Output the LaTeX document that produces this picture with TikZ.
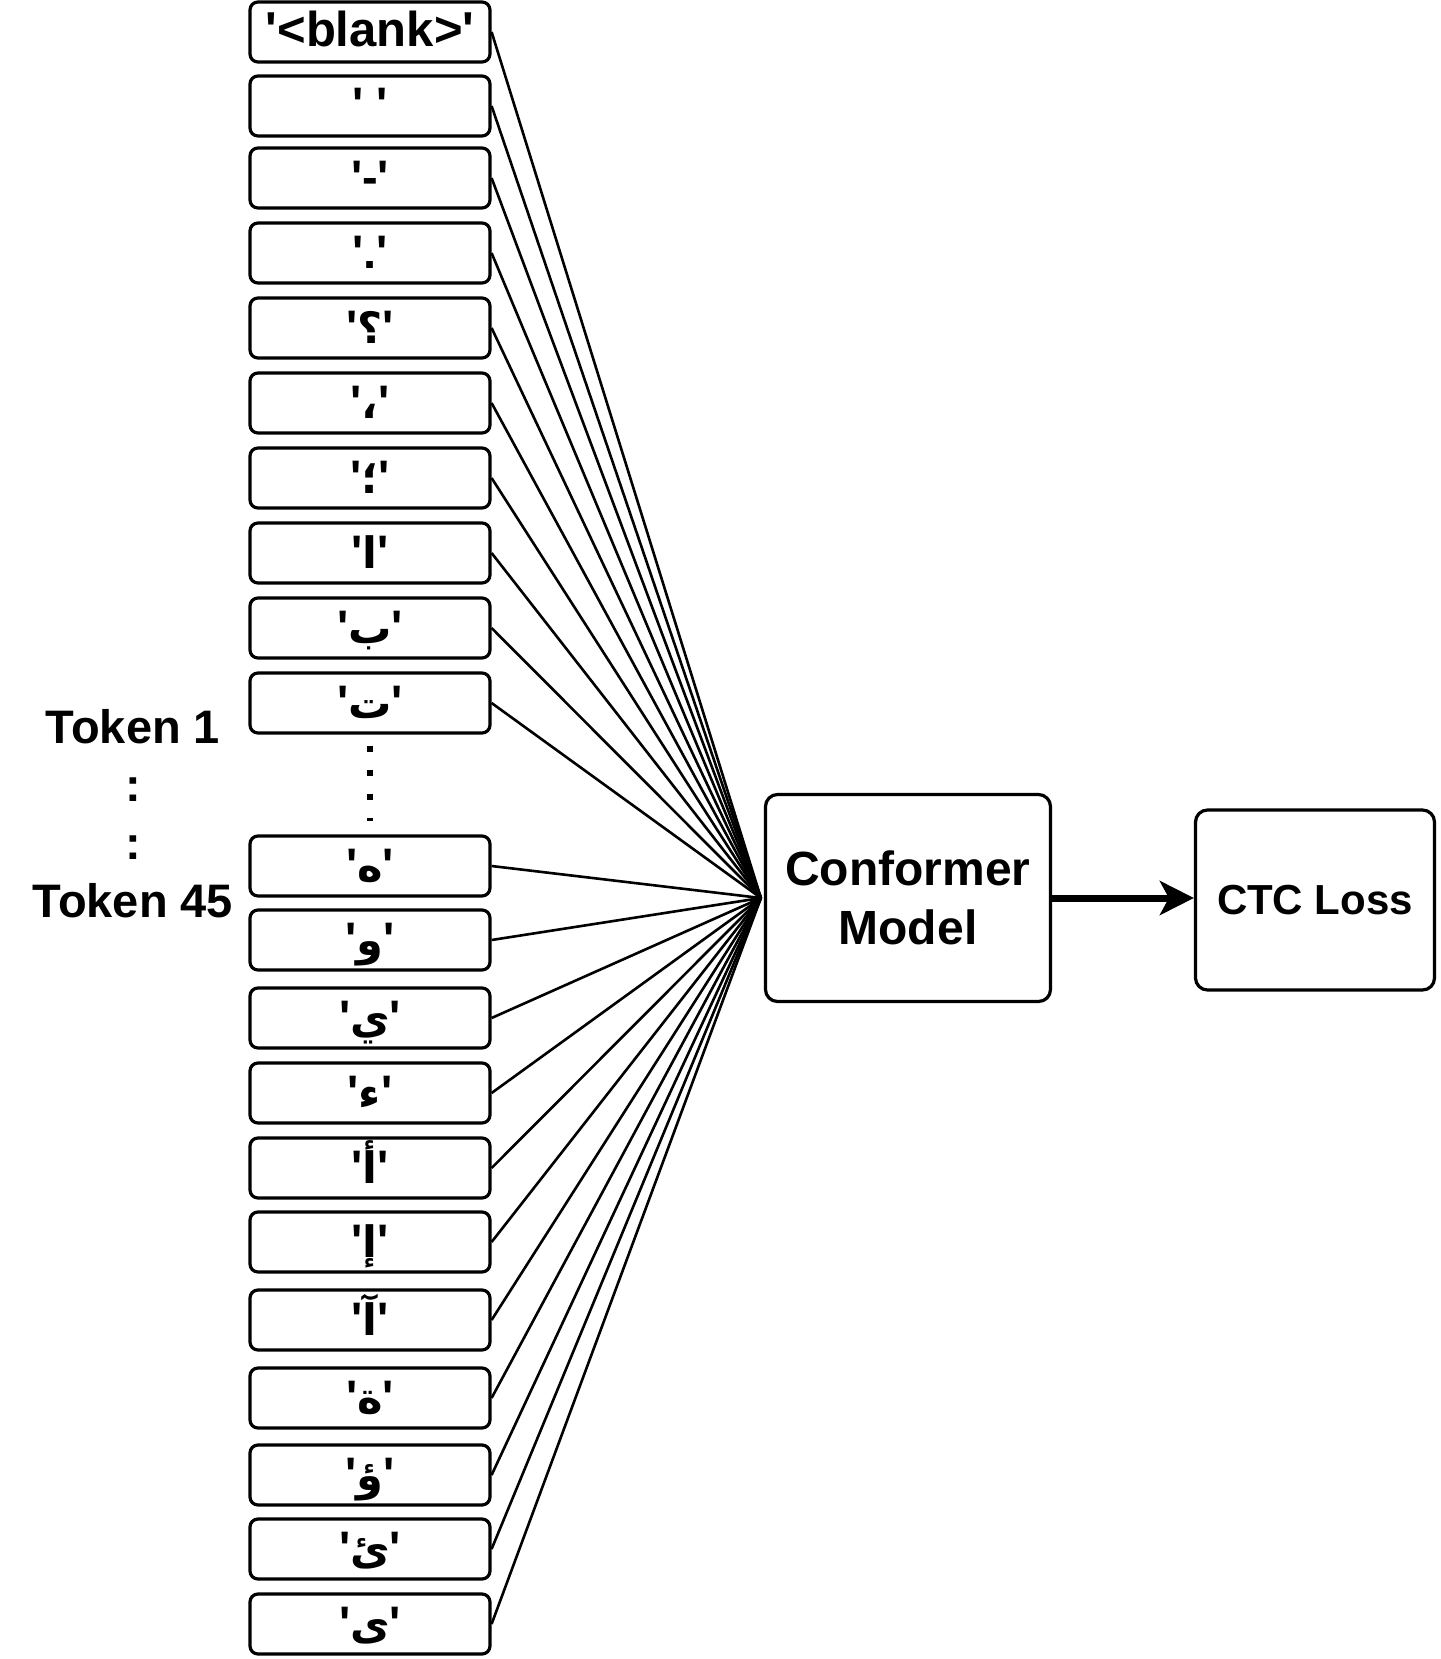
\documentclass[tikz,border=0pt]{standalone}
\usepackage{fontspec}
\setmainfont{Liberation Sans}
\newfontfamily\arabicfont[Script=Arabic, Scale=0.92]{DejaVu Sans}
\TeXXeTstate=1
\usetikzlibrary{arrows.meta,positioning}

\newcommand{\qt}{\textquotesingle}
\newcommand{\artok}[1]{\qt{\arabicfont\beginR#1\endR}\qt}

\begin{document}
\begin{tikzpicture}[x=1pt, y=-1pt,
            every node/.style={font=\bfseries\fontsize{47}{58}\selectfont},
            tokbox/.style={draw, line width=3.2pt, rounded corners=8pt, inner sep=0pt,
              minimum width=240pt, minimum height=60pt, text height=33pt, text depth=3pt},
            bigbox/.style={draw, line width=3.2pt, rounded corners=12pt, align=center},
            link/.style={draw, line width=2.6pt},
            dots/.style={draw, line width=6pt, dash pattern=on 6pt off 18pt},
            flow/.style={draw, line width=7pt, -{Stealth[length=34pt, width=34pt, inset=9pt]}}]
        \useasboundingbox (0,0) rectangle (1440,1659);
        % token column
        \foreach \y/\lab [count=\i] in {32/{\fontsize{49}{58}\selectfont\qt<blank>\qt}, 106/{\qt\ \qt}, 178/{\qt-\qt},
              253/{\qt.\qt}, 328/{\artok{؟}}, 403/{\artok{،}}, 478/{\artok{؛}},
              553/{\artok{ا}}, 628/{\artok{ب}}, 703/{\artok{ت}},
              866/{\artok{ه}}, 940/{\artok{و}}, 1018/{\artok{ي}}, 1093/{\artok{ء}},
              1168/{\artok{أ}}, 1242/{\artok{إ}}, 1320/{\artok{آ}}, 1398/{\artok{ة}},
              1475/{\artok{ؤ}}, 1549/{\artok{ئ}}, 1624/{\artok{ى}}}
            \node[tokbox] (t\i) at (370,\y) {\lab};
        \node[align=center] (range) at (133,814) {Token 1\\:\\:\\Token 45};
        \node[bigbox, minimum width=285pt, minimum height=207pt,
              font=\bfseries\fontsize{48}{59}\selectfont] (model) at (908,898) {Conformer\\Model};
        \node[bigbox, minimum width=239pt, minimum height=180pt,
              font=\bfseries\fontsize{42}{50}\selectfont] (loss) at (1315,900) {CTC Loss};
        \coordinate (hub) at ([xshift=-3pt]model.west);
        \foreach \i in {1,...,21}
            \draw[link] (t\i.east) -- (hub);
        \draw[dots] ([yshift=-11pt]t10.south) -- ([yshift=13pt]t11.north);
        \draw[flow] (model.east) -- (model.east -| loss.west);
\end{tikzpicture}
\end{document}
